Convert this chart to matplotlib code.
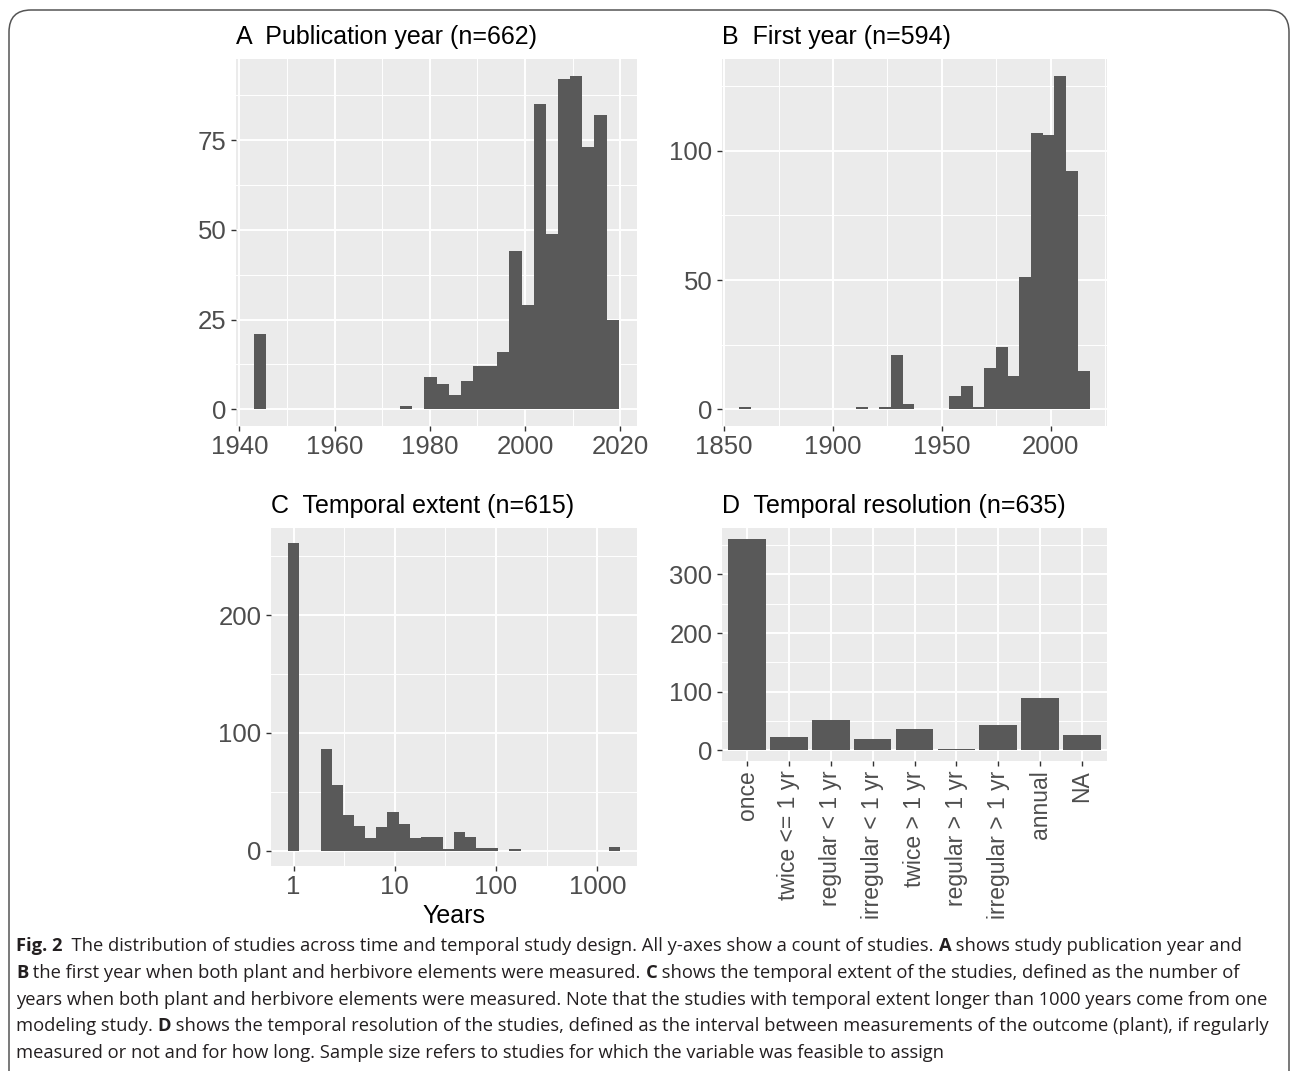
import numpy as np
import matplotlib
matplotlib.use('Agg')
import matplotlib.pyplot as plt
from matplotlib.patches import FancyBboxPatch
from matplotlib.transforms import IdentityTransform

# ---- data ----
# A: publication year, 30 bins
pub_range = (1943.1, 2019.7)
pub_counts = [21, 0, 0, 0, 0, 0, 0, 0, 0, 0, 0, 0, 1, 0,
              9, 7, 4, 8, 12, 12, 16, 44, 29, 85, 49, 92, 93, 73, 82, 25]

# B: first year, 30 bins
first_range = (1857.1, 2017.7)
first_counts = [1, 0, 0, 0, 0, 0, 0, 0, 0, 0, 1, 0, 1, 21, 2, 0, 0, 0,
                5, 9, 1, 16, 24, 13, 51, 107, 106, 129, 92, 15]

# C: temporal extent (log10 years), 30 bins
extent_log_range = (-0.059, 3.228)
extent_counts = [261, 0, 0, 86, 56, 30, 21, 11, 20, 33, 23, 11, 12, 12, 1,
                 16, 12, 2, 2, 0, 1, 0, 0, 0, 0, 0, 0, 0, 0, 3]

# D: temporal resolution
res_labels = ['once', 'twice <= 1 yr', 'regular < 1 yr', 'irregular < 1 yr',
              'twice > 1 yr', 'regular > 1 yr', 'irregular > 1 yr', 'annual', 'NA']
res_counts = [361, 23, 52, 19, 36, 2, 44, 90, 26]

titles = ['A  Publication year (n=662)', 'B  First year (n=594)',
          'C  Temporal extent (n=615)', 'D  Temporal resolution (n=635)']

caption_lines = [
    [('Fig. 2', True), ('  The distribution of studies across time and temporal study design. All y-axes show a count of studies. ', False),
     ('A', True), (' shows study publication year and', False)],
    [('B', True), (' the first year when both plant and herbivore elements were measured. ', False),
     ('C', True), (' shows the temporal extent of the studies, defined as the number of', False)],
    [('years when both plant and herbivore elements were measured. Note that the studies with temporal extent longer than 1000 years come from one', False)],
    [('modeling study. ', False), ('D', True),
     (' shows the temporal resolution of the studies, defined as the interval between measurements of the outcome (plant), if regularly', False)],
    [('measured or not and for how long. Sample size refers to studies for which the variable was feasible to assign', False)],
]

# ---- style ----
W, H = 1295, 1071
BG = '#EBEBEB'
BAR = '#595959'
TICK_SIZE = 18.5
plt.rcParams['font.family'] = ['Liberation Sans', 'DejaVu Sans']

fig = plt.figure(figsize=(W / 100, H / 100), dpi=100)


def make_ax(l, r, t, b):
    ax = fig.add_axes([l / W, 1 - b / H, (r - l) / W, (b - t) / H])
    ax.set_facecolor(BG)
    for s in ax.spines.values():
        s.set_visible(False)
    ax.set_axisbelow(True)
    ax.grid(which='major', color='white', lw=1.4)
    ax.grid(which='minor', color='white', lw=0.7)
    ax.tick_params(which='major', length=3.8, width=1.0, color='#333333',
                   labelsize=TICK_SIZE, labelcolor='#4D4D4D', pad=3)
    ax.tick_params(which='minor', length=0)
    return ax


def expand(lo, hi, f=0.05):
    d = (hi - lo) * f
    return lo - d, hi + d


# A
axA = make_ax(236, 637, 59, 426)
edges = np.linspace(pub_range[0], pub_range[1], len(pub_counts) + 1)
axA.bar(edges[:-1], pub_counts, width=np.diff(edges), align='edge', color=BAR, lw=0)
axA.set_xlim(*expand(*pub_range))
axA.set_ylim(*expand(0, max(pub_counts)))
axA.set_xticks([1940, 1960, 1980, 2000, 2020])
axA.set_xticks([1950, 1970, 1990, 2010], minor=True)
axA.set_yticks([0, 25, 50, 75])
axA.set_yticks([12.5, 37.5, 62.5, 87.5], minor=True)

# B
axB = make_ax(722, 1107, 59, 426)
edges = np.linspace(first_range[0], first_range[1], len(first_counts) + 1)
axB.bar(edges[:-1], first_counts, width=np.diff(edges), align='edge', color=BAR, lw=0)
axB.set_xlim(*expand(*first_range))
axB.set_ylim(*expand(0, max(first_counts)))
axB.set_xticks([1850, 1900, 1950, 2000])
axB.set_xticks([1875, 1925, 1975, 2025], minor=True)
axB.set_yticks([0, 50, 100])
axB.set_yticks([25, 75, 125], minor=True)

# C
axC = make_ax(271, 637, 528, 866)
axC.set_xscale('log')
ledges = np.linspace(extent_log_range[0], extent_log_range[1], len(extent_counts) + 1)
edges = 10 ** ledges
axC.bar(edges[:-1], extent_counts, width=np.diff(edges), align='edge', color=BAR, lw=0)
lo, hi = expand(*extent_log_range)
axC.set_xlim(10 ** lo, 10 ** hi)
axC.set_ylim(*expand(0, max(extent_counts)))
axC.set_xticks([1, 10, 100, 1000])
axC.set_xticklabels(['1', '10', '100', '1000'])
axC.set_xticks([10 ** 0.5, 10 ** 1.5, 10 ** 2.5], minor=True)
axC.set_xticklabels([], minor=True)
axC.set_yticks([0, 100, 200])
axC.set_yticks([50, 150, 250], minor=True)
axC.set_xlabel('Years', fontsize=18, color='black', labelpad=3)

# D
axD = make_ax(722, 1107, 528, 761)
pos = np.arange(1, len(res_counts) + 1)
axD.bar(pos, res_counts, width=0.9, color=BAR, lw=0)
axD.set_xlim(0.4, len(res_counts) + 0.6)
axD.set_ylim(*expand(0, max(res_counts)))
axD.set_xticks(pos)
axD.set_xticklabels(res_labels, rotation=90, ha='center', va='top', fontsize=16.5)
axD.set_yticks([0, 100, 200, 300])
axD.set_yticks([50, 150, 250, 350], minor=True)

# titles
for (x, y), t in zip([(236, 37), (722, 37), (271, 506), (722, 506)], titles):
    fig.text(x / W, 1 - y / H, t, fontsize=18, color='black', ha='left', va='center')

# outer rounded frame (open at the bottom)
frame = FancyBboxPatch((9, -60), 1280, 1061 + 60, boxstyle='round,pad=0,rounding_size=22',
                       transform=IdentityTransform(), fill=False, ec='#555555', lw=1.1)
fig.add_artist(frame)

# caption
cap_font = ['Open Sans', 'DejaVu Sans']
renderer = fig.canvas.get_renderer()
probe = fig.text(0, 0, caption_lines[2][0][0], fontsize=12, family=cap_font)
w12 = probe.get_window_extent(renderer).width
probe.remove()
cap_size = 12 * (1258 - 16) / w12

line_y = [946, 973, 1000, 1026, 1053]
for segs, y in zip(caption_lines, line_y):
    x = 16
    for txt, bold in segs:
        t = fig.text(x / W, 1 - y / H, txt, fontsize=cap_size, family=cap_font,
                     fontweight='bold' if bold else 'normal', color='#231F20',
                     ha='left', va='center')
        x = t.get_window_extent(renderer).x1

fig.savefig('out.png', dpi=100)
